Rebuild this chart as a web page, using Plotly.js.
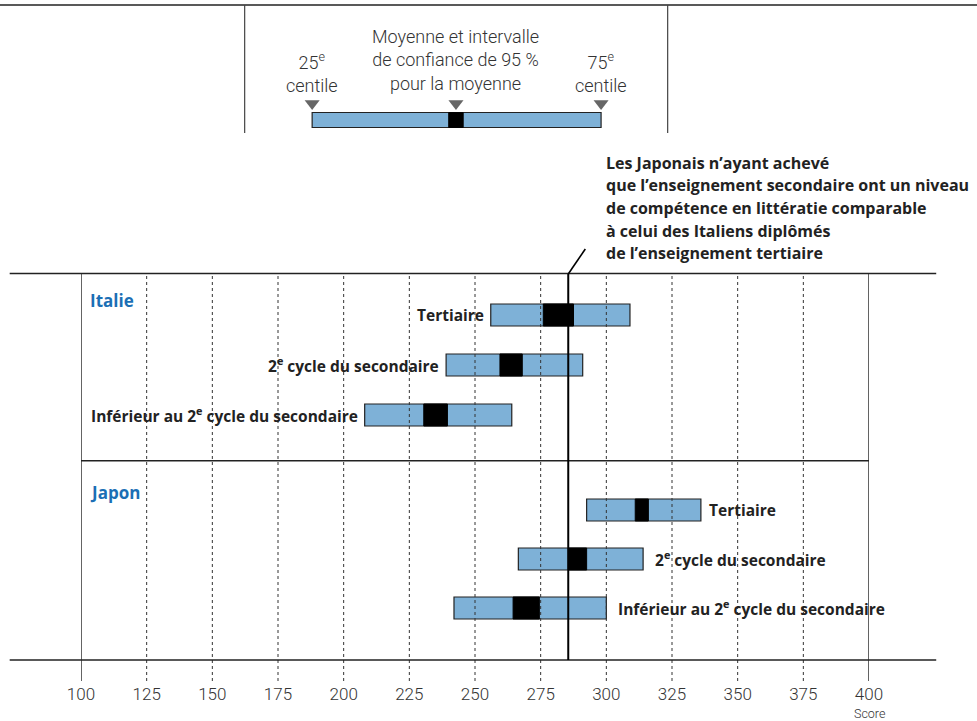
<!DOCTYPE html>
<html>
<head>
<meta charset="utf-8">
<script src="https://cdn.plot.ly/plotly-3.0.1.min.js"></script>
<style>html,body{margin:0;padding:0;background:#fff;}#chart{width:977px;height:721px;}</style>
</head>
<body>
<div id="chart"></div>
<script>
// ---- Data ----
const levels = ['Tertiaire', '2<sup>e</sup> cycle du secondaire', 'Inférieur au 2<sup>e</sup> cycle du secondaire'];
const countries = ['Italie', 'Japon'];
const italyRows = [0, 1, 2];
const japanRows = [3.9, 4.88, 5.86];
const italyP25 = [256, 239, 208];
const italyP75 = [309, 291, 264];
const italyCiLow = [276, 259.5, 230.5];
const italyCiHigh = [287.5, 268, 239.5];
const japanP25 = [292.5, 266.5, 242];
const japanP75 = [336, 314, 300];
const japanCiLow = [311, 285.5, 264.5];
const japanCiHigh = [316, 292.5, 274.5];
const referenceScore = 285.5;
const tickVals = [100, 125, 150, 175, 200, 225, 250, 275, 300, 325, 350, 375, 400];
// schematic key bar (illustrative values on the same score scale)
const keyP25 = 188, keyCiLow = 240, keyCiHigh = 245.5, keyP75 = 298;
const noteLines = [
  "Les Japonais n’ayant achevé",
  "que l’enseignement secondaire ont un niveau",
  "de compétence en littératie comparable",
  "à celui des Italiens diplômés",
  "de l’enseignement tertiaire"
];

// ---- Styles ----
const BLUE = '#7eb1d7';
const DARK = '#222';
const LIGHTFONT = 'Roboto, Liberation Sans, sans-serif';
const BOLDFONT = 'Open Sans, Noto Sans, sans-serif';
const H = 660; // paper height in px (plot area spans to bottom margin)
const py = px => (H - px) / H;

const diff = (a, b) => a.map((v, i) => b[i] - v);

const traces = [
  { type: 'bar', orientation: 'h', y: italyRows, base: italyP25, x: diff(italyP25, italyP75), width: 0.44,
    marker: { color: BLUE, line: { color: DARK, width: 1.2 } }, hoverinfo: 'skip', showlegend: false },
  { type: 'bar', orientation: 'h', y: japanRows, base: japanP25, x: diff(japanP25, japanP75), width: 0.44,
    marker: { color: BLUE, line: { color: DARK, width: 1.2 } }, hoverinfo: 'skip', showlegend: false },
  { type: 'bar', orientation: 'h', y: italyRows, base: italyCiLow, x: diff(italyCiLow, italyCiHigh), width: 0.44,
    marker: { color: '#000', line: { color: '#000', width: 1 } }, hoverinfo: 'skip', showlegend: false },
  { type: 'bar', orientation: 'h', y: japanRows, base: japanCiLow, x: diff(japanCiLow, japanCiHigh), width: 0.44,
    marker: { color: '#000', line: { color: '#000', width: 1 } }, hoverinfo: 'skip', showlegend: false },
  // key
  { type: 'bar', orientation: 'h', yaxis: 'y2', y: [0], base: [keyP25], x: [keyP75 - keyP25], width: 1,
    marker: { color: BLUE, line: { color: DARK, width: 1.2 } }, hoverinfo: 'skip', showlegend: false },
  { type: 'bar', orientation: 'h', yaxis: 'y2', y: [0], base: [keyCiLow], x: [keyCiHigh - keyCiLow], width: 1,
    marker: { color: '#000', line: { color: '#000', width: 1 } }, hoverinfo: 'skip', showlegend: false },
  { type: 'scatter', mode: 'markers', yaxis: 'y2', x: [keyP25, (keyCiLow + keyCiHigh) / 2, keyP75], y: [1.1, 1.1, 1.1],
    marker: { symbol: 'triangle-down', size: 13, color: '#666' }, cliponaxis: false, hoverinfo: 'skip', showlegend: false }
];

const shapes = [];
// vertical grid / tick lines
tickVals.forEach(v => {
  const solid = (v === tickVals[0] || v === tickVals[tickVals.length - 1]);
  shapes.push({ type: 'line', xref: 'x', yref: 'paper', x0: v, x1: v, y0: py(681), y1: py(273.5),
    line: { color: solid ? DARK : '#333', width: solid ? 1.4 : 1, dash: solid ? 'solid' : '3px,3px' } });
});
// horizontal frame lines
shapes.push({ type: 'line', xref: 'paper', yref: 'paper', x0: -0.0905, x1: 1.0853, y0: py(273.5), y1: py(273.5), line: { color: DARK, width: 1.5 } });
shapes.push({ type: 'line', xref: 'paper', yref: 'paper', x0: -0.0905, x1: 1.0853, y0: py(660), y1: py(660), line: { color: DARK, width: 1.5 } });
// separator between countries
shapes.push({ type: 'line', xref: 'x', yref: 'y', x0: tickVals[0], x1: tickVals[tickVals.length - 1], y0: 2.915, y1: 2.915, line: { color: DARK, width: 1.4 } });
// reference line
shapes.push({ type: 'line', xref: 'x', yref: 'paper', x0: referenceScore, x1: referenceScore, y0: py(660), y1: py(274), line: { color: '#000', width: 2 } });
shapes.push({ type: 'line', xref: 'x', yref: 'paper', x0: referenceScore, x1: 292, y0: py(274), y1: py(249), line: { color: '#000', width: 1.6 } });
// key frame
shapes.push({ type: 'line', xref: 'paper', yref: 'paper', x0: -0.11, x1: 1.14, y0: py(5), y1: py(5), line: { color: DARK, width: 1.5 } });
shapes.push({ type: 'line', xref: 'paper', yref: 'paper', x0: 0.2077, x1: 0.2077, y0: py(5), y1: py(133), line: { color: '#444', width: 1.2 } });
shapes.push({ type: 'line', xref: 'paper', yref: 'paper', x0: 0.7445, x1: 0.7445, y0: py(5), y1: py(133), line: { color: '#444', width: 1.2 } });

const annotations = [];
levels.forEach((lab, i) => {
  annotations.push({ xref: 'x', yref: 'y', x: italyP25[i], y: italyRows[i], text: lab, showarrow: false,
    xanchor: 'right', yanchor: 'middle', xshift: -5, font: { family: BOLDFONT, size: 15.5, color: DARK, weight: 700 } });
  annotations.push({ xref: 'x', yref: 'y', x: japanP75[i], y: japanRows[i], text: lab, showarrow: false,
    xanchor: 'left', yanchor: 'middle', xshift: i === 0 ? 6 : 10, font: { family: BOLDFONT, size: 15.5, color: DARK, weight: 700 } });
});
annotations.push({ xref: 'paper', yref: 'paper', x: 7 / 788, y: py(300), text: countries[0], showarrow: false, xanchor: 'left', yanchor: 'middle',
  font: { family: BOLDFONT, size: 17, color: '#1b6fb5', weight: 700 } });
annotations.push({ xref: 'paper', yref: 'paper', x: 7 / 788, y: py(492), text: countries[1], showarrow: false, xanchor: 'left', yanchor: 'middle',
  font: { family: BOLDFONT, size: 17, color: '#1b6fb5', weight: 700 } });
const noteY = [163, 185.5, 208, 230.5, 253];
noteLines.forEach((t, i) => {
  annotations.push({ xref: 'x', yref: 'paper', x: 300, y: py(noteY[i]), text: t, showarrow: false, xanchor: 'left', yanchor: 'middle', xshift: -2,
    font: { family: BOLDFONT, size: 16, color: DARK, weight: 700 } });
});
annotations.push({ xref: 'x', yref: 'paper', x: 400, y: py(713), text: 'Score', showarrow: false, yanchor: 'middle',
  font: { family: LIGHTFONT, size: 12.5, color: '#333', weight: 300 } });
// key texts
annotations.push({ xref: 'x', yref: 'paper', x: (keyCiLow + keyCiHigh) / 2, y: py(60), text: 'Moyenne et intervalle<br>de confiance de 95 %<br>pour la moyenne',
  showarrow: false, align: 'center', yanchor: 'middle', font: { family: LIGHTFONT, size: 18, color: '#333', weight: 300 } });
annotations.push({ xref: 'x', yref: 'paper', x: keyP25, y: py(72), text: '25<sup>e</sup><br>centile',
  showarrow: false, align: 'center', yanchor: 'middle', font: { family: LIGHTFONT, size: 18, color: '#333', weight: 300 } });
annotations.push({ xref: 'x', yref: 'paper', x: keyP75, y: py(72), text: '75<sup>e</sup><br>centile',
  showarrow: false, align: 'center', yanchor: 'middle', font: { family: LIGHTFONT, size: 18, color: '#333', weight: 300 } });

const layout = {
  width: 977, height: 721,
  margin: { l: 81, r: 108, t: 0, b: 61 },
  paper_bgcolor: '#fff', plot_bgcolor: 'rgba(0,0,0,0)',
  barmode: 'overlay',
  showlegend: false,
  xaxis: { range: [100, 400], tickvals: tickVals, ticks: 'outside', ticklen: 19, tickcolor: 'rgba(0,0,0,0)',
    showgrid: false, zeroline: false, showline: false, tickfont: { family: LIGHTFONT, size: 17, color: '#333', weight: 300 }, fixedrange: true },
  yaxis: { domain: [0, 387 / 660], range: [6.9, -0.84], autorange: false, showgrid: false, zeroline: false,
    showticklabels: false, showline: false, fixedrange: true },
  yaxis2: { domain: [py(135), py(95)], range: [-1, 5 / 3], autorange: false, anchor: 'x', showgrid: false, zeroline: false,
    showticklabels: false, showline: false, fixedrange: true },
  shapes: shapes,
  annotations: annotations
};

Plotly.newPlot('chart', traces, layout, { staticPlot: true, displayModeBar: false });
</script>
</body>
</html>
